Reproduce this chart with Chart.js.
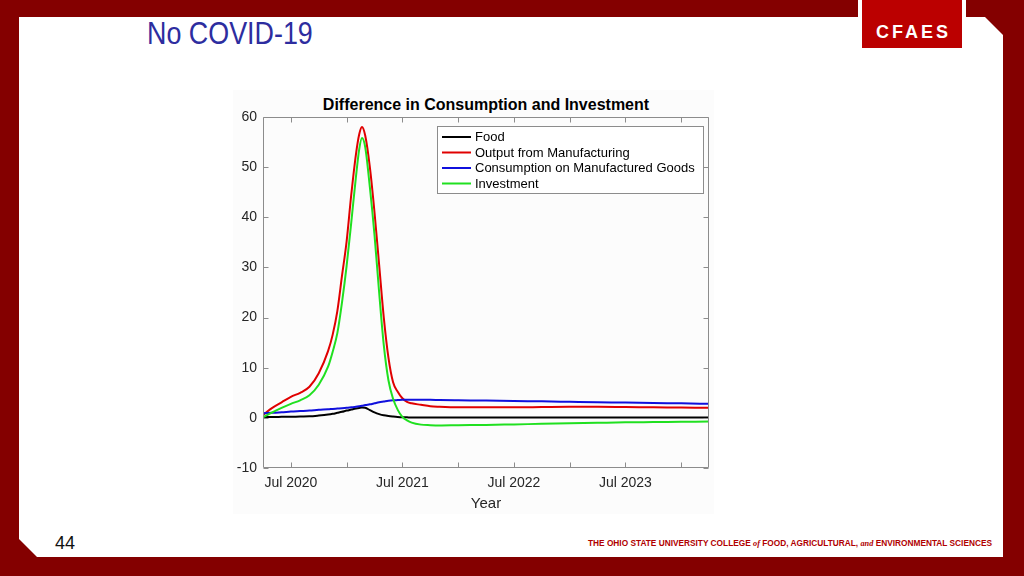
<!DOCTYPE html>
<html>
<head>
<meta charset="utf-8">
<script src="https://cdn.jsdelivr.net/npm/chart.js@4.4.1/dist/chart.umd.min.js"></script>
<style>
  html, body { margin:0; padding:0; }
  body { width:1024px; height:576px; overflow:hidden; position:relative; background:#840000; font-family:'Liberation Sans', Arial, Helvetica, sans-serif; }
  .abs { position:absolute; }
  #frame { left:0; top:0; }
  #title { left:147px; top:17px; font-size:32px; line-height:32px; color:#2d2d9f; white-space:nowrap; transform:scaleX(0.84); transform-origin:left top; }
  #pagenum { left:55px; top:534px; font-size:18px; line-height:18px; color:#111; }
  #footer { right:32px; top:538px; font-size:8.3px; line-height:10px; font-weight:bold; color:#b00000; white-space:nowrap; }
  #footer i { font-family:'Liberation Serif', 'DejaVu Serif', serif; font-weight:bold; }
  #cfaes { left:876px; top:23px; font-size:18px; line-height:18px; font-weight:bold; color:#fff; letter-spacing:3px; white-space:nowrap; }
  #figbg { left:233px; top:90px; width:481px; height:424px; background:#fcfcfc; }
  #ctitle { left:263px; width:446px; top:96px; text-align:center; font-size:16px; line-height:18px; font-weight:bold; color:#000; white-space:nowrap; }
  canvas { position:absolute; left:0; top:0; }
</style>
</head>
<body>
<svg id="frame" class="abs" width="1024" height="576">
  <polygon points="19,17 985,17 1003,35 1003,557 37,557 19,539" fill="#ffffff"/>
  <rect x="858" y="0" width="108" height="52" fill="#ffffff"/>
  <rect x="862" y="0" width="100" height="48" fill="#bb0000"/>
</svg>
<div id="cfaes" class="abs">CFAES</div>
<div id="title" class="abs">No COVID-19</div>
<div id="pagenum" class="abs">44</div>
<div id="footer" class="abs">THE OHIO STATE UNIVERSITY COLLEGE <i>of</i> FOOD, AGRICULTURAL, <i>and</i> ENVIRONMENTAL SCIENCES</div>
<div id="figbg" class="abs"></div>
<div id="ctitle" class="abs">Difference in Consumption and Investment</div>
<canvas id="c" width="1024" height="576"></canvas>
<script>
// x values are months counted from Jan 2020 (Jul 2020 = 6)
const months = [3, 4, 5, 6, 7, 8, 9, 10, 10.5, 11, 11.5, 12, 12.5, 13, 13.35, 13.65, 14, 14.5, 15, 15.5, 16, 16.5, 17, 17.5, 18, 18.5, 19, 20, 21, 22, 24, 27, 30, 33, 36, 39, 42, 45, 48, 51];

const food = [0.15, 0.18, 0.2, 0.22, 0.27, 0.3, 0.45, 0.65, 0.8, 1.0, 1.2, 1.45, 1.65, 1.85, 1.97, 2.05, 2.0, 1.55, 1.1, 0.75, 0.5, 0.35, 0.25, 0.17, 0.12, 0.1, 0.08, 0.07, 0.06, 0.05, 0.05, 0.05, 0.05, 0.05, 0.05, 0.05, 0.05, 0.05, 0.05, 0.05];

const outputManufacturing = [0.6, 2.0, 3.1, 4.2, 5.0, 6.2, 8.9, 13.3, 16.6, 21.3, 28.3, 35.2, 44.5, 52.5, 56.5, 58.0, 56.3, 50, 41, 30.5, 20, 12, 7.1, 5.2, 3.9, 3.2, 2.9, 2.6, 2.3, 2.2, 2.1, 2.1, 2.1, 2.15, 2.2, 2.2, 2.15, 2.1, 2.05, 2.0];

const consumptionManufactured = [0.9, 1.0, 1.1, 1.25, 1.35, 1.45, 1.6, 1.7, 1.78, 1.85, 1.92, 2.0, 2.1, 2.2, 2.3, 2.4, 2.55, 2.7, 2.9, 3.1, 3.25, 3.4, 3.5, 3.55, 3.6, 3.6, 3.6, 3.6, 3.6, 3.55, 3.5, 3.45, 3.35, 3.3, 3.2, 3.1, 3.05, 2.95, 2.9, 2.8];

const investment = [0.1, 1.1, 2.0, 2.8, 3.5, 4.5, 6.6, 10.2, 13.2, 16.9, 23, 30.3, 39, 48, 53.5, 55.8, 54, 46, 36.5, 25, 14.5, 7.5, 3.8, 1.6, 0.2, -0.5, -0.95, -1.35, -1.45, -1.5, -1.45, -1.4, -1.3, -1.2, -1.1, -1.0, -0.9, -0.85, -0.8, -0.75];

const seriesLabels = ['Food', 'Output from Manufacturing', 'Consumption on Manufactured Goods', 'Investment'];
const seriesColors = ['#000000', '#e00000', '#1010dd', '#20e020'];

const xTickValues = [6, 12, 18, 24, 30, 36, 42, 48];
const xTickLabels = ['Jul 2020', '', 'Jul 2021', '', 'Jul 2022', '', 'Jul 2023', ''];
const yTickValues = [-10, 0, 10, 20, 30, 40, 50, 60];

const FONT = "'Liberation Sans', Arial, Helvetica, sans-serif";
const toPoints = arr => arr.map((v, i) => ({x: months[i], y: v}));
const allSeries = [food, outputManufacturing, consumptionManufactured, investment];

const datasets = allSeries.map((arr, i) => ({
  label: seriesLabels[i],
  data: toPoints(arr),
  borderColor: seriesColors[i],
  backgroundColor: seriesColors[i],
  borderWidth: 2,
  pointRadius: 0,
  fill: false,
  cubicInterpolationMode: 'monotone',
  order: allSeries.length - i
}));

const framePlugin = {
  id: 'frame',
  afterDatasetsDraw(chart) {
    const {ctx, chartArea: a, scales: {x, y}} = chart;
    const L = Math.round(a.left) + 0.5, R = Math.round(a.right) - 0.5;
    const T = Math.round(a.top) + 0.5, B = Math.round(a.bottom) - 0.5;
    ctx.save();
    ctx.strokeStyle = '#8c8c8c';
    ctx.lineWidth = 1;
    ctx.beginPath();
    ctx.rect(L, T, R - L, B - T);
    xTickValues.forEach(v => {
      const px = Math.round(x.getPixelForValue(v)) + 0.5;
      ctx.moveTo(px, B); ctx.lineTo(px, B - 5);
      ctx.moveTo(px, T); ctx.lineTo(px, T + 5);
    });
    yTickValues.forEach(v => {
      const py = Math.round(y.getPixelForValue(v)) + 0.5;
      ctx.moveTo(L, py); ctx.lineTo(L + 5, py);
      ctx.moveTo(R, py); ctx.lineTo(R - 5, py);
    });
    ctx.stroke();
    ctx.restore();
  }
};

const legendPlugin = {
  id: 'boxLegend',
  afterDraw(chart) {
    const {ctx, chartArea: a} = chart;
    const w = 266, h = 67;
    const left = Math.round(a.right) - 6 - w, top = Math.round(a.top) + 9;
    ctx.save();
    ctx.fillStyle = '#ffffff';
    ctx.fillRect(left, top, w, h);
    ctx.strokeStyle = '#8c8c8c';
    ctx.lineWidth = 1;
    ctx.strokeRect(left + 0.5, top + 0.5, w, h);
    ctx.font = '13px ' + FONT;
    ctx.textBaseline = 'middle';
    ctx.textAlign = 'left';
    chart.data.datasets.forEach((ds, i) => {
      const yy = top + 11 + i * 15.5;
      ctx.strokeStyle = ds.borderColor;
      ctx.lineWidth = 2;
      ctx.beginPath();
      ctx.moveTo(left + 5, yy);
      ctx.lineTo(left + 34, yy);
      ctx.stroke();
      ctx.fillStyle = '#000';
      ctx.fillText(ds.label, left + 38, yy + 0.5);
    });
    ctx.restore();
  }
};

new Chart(document.getElementById('c'), {
  type: 'line',
  data: { datasets },
  options: {
    responsive: false,
    animation: false,
    devicePixelRatio: 1,
    layout: { padding: { left: 0, right: 315, top: 117, bottom: 63 } },
    plugins: { legend: { display: false }, title: { display: false }, tooltip: { enabled: false } },
    scales: {
      x: {
        type: 'linear', min: 3, max: 51,
        afterFit(s) { s.height = 45; },
        afterBuildTicks(s) { s.ticks = xTickValues.map(v => ({ value: v })); },
        grid: { display: false, drawTicks: false },
        border: { display: false },
        ticks: {
          autoSkip: false, maxRotation: 0, padding: 7, color: '#262626',
          font: { family: FONT, size: 14 },
          callback: (v) => { const k = xTickValues.indexOf(v); return k >= 0 ? xTickLabels[k] : ''; }
        },
        title: { display: true, text: 'Year', color: '#262626', font: { family: FONT, size: 15 }, padding: { top: 0, bottom: 0 } }
      },
      y: {
        min: -10, max: 60,
        afterFit(s) { s.width = 263; },
        afterBuildTicks(s) { s.ticks = yTickValues.map(v => ({ value: v })); },
        grid: { display: false, drawTicks: false },
        border: { display: false },
        ticks: { padding: 6, color: '#262626', font: { family: FONT, size: 14 } }
      }
    }
  },
  plugins: [framePlugin, legendPlugin]
});
</script>
</body>
</html>
